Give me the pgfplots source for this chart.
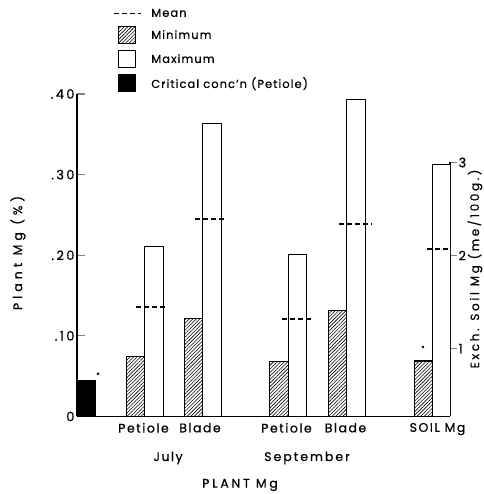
\documentclass[border=0pt]{standalone}
\usepackage{fontspec}
\setmainfont{Poppins}[LetterSpace=12, FakeBold=0.6]
\usepackage{pgfplots}
\pgfplotsset{compat=1.18}
\usetikzlibrary{patterns.meta}
\tikzset{
  hatch/.style={pattern={Lines[angle=45,distance=2.5pt,line width=0.6pt]}, pattern color=black},
}
\newcommand{\lab}{\fontsize{12.5}{14}\selectfont}
\pgfplotsset{
  base/.style={
    at={(77pt,77.5pt)}, anchor=south west, scale only axis,
    width=373pt, xmin=77, xmax=450,
    /pgf/number format/assume math mode=true,
    tick label style={font=\fontsize{13}{15}\selectfont\addfontfeatures{LetterSpace=18}},
  },
  mybar/.style={ybar, bar width=18.5, bar shift=0pt, draw=black, line width=1.1pt, forget plot},
  meanline/.style={black, line width=1.4pt, dash pattern=on 5pt off 3pt, forget plot},
}
\begin{document}
\begin{tikzpicture}[x=1pt,y=1pt]
\useasboundingbox (0,0) rectangle (483,494);
\begin{axis}[base, height=322.5pt, ymin=0, ymax=0.4,
  axis lines*=left, axis line style={-, line width=1.2pt},
  ytick={0,0.1,0.2,0.3,0.4}, yticklabels={0,.10,.20,.30,.40},
  ytick style={line width=1.2pt}, tick align=inside, major tick length=8pt,
  yticklabel style={xshift=1pt},
  xtick={143.5,200,286.5,345.5,437.5},
  xticklabels={Petiole,Blade,Petiole,Blade,SOIL Mg},
  x tick style={draw=none},
  xticklabel style={anchor=north, yshift=-3pt, font=\lab},
  legend cell align=left,
  legend style={draw=none, fill=none, at={(rel axis cs:0.088,1.277)}, anchor=north west,
    font=\fontsize{11.5}{13}\selectfont\addfontfeatures{LetterSpace=9}, row sep=6pt, column sep=8pt},
]
\addlegendimage{legend image code/.code={\draw[black, line width=1.3pt, dash pattern=on 5pt off 3pt] (0pt,0pt) -- (27pt,0pt);}}
\addlegendentry{Mean}
\addlegendimage{legend image code/.code={\draw[hatch, line width=1pt] (5pt,-8.5pt) rectangle (22pt,8.5pt);}}
\addlegendentry{Minimum}
\addlegendimage{legend image code/.code={\draw[fill=white, line width=1pt] (5pt,-8.5pt) rectangle (22pt,8.5pt);}}
\addlegendentry{Maximum}
\addlegendimage{legend image code/.code={\draw[fill=black, line width=1pt] (5pt,-8.5pt) rectangle (22pt,8.5pt);}}
\addlegendentry{Critical conc'n (Petiole)}

% critical concentration (petiole)
\addplot[mybar, fill=black] coordinates {(86,0.044)};
\addplot[only marks, mark=*, mark size=1.1pt, black, forget plot] coordinates {(98,0.053)};
% minimum
\addplot[mybar, hatch] coordinates {(136,0.074) (193.5,0.121) (279,0.068) (337.5,0.131)};
% maximum
\addplot[mybar, fill=white] coordinates {(154,0.211) (212,0.363) (297.5,0.201) (356,0.393)};
% means
\addplot[meanline] coordinates {(136,0.136) (167,0.136)};
\addplot[meanline] coordinates {(195,0.245) (226,0.245)};
\addplot[meanline] coordinates {(282,0.121) (313,0.121)};
\addplot[meanline] coordinates {(339,0.239) (372,0.239)};
\end{axis}

\begin{axis}[base, height=254pt, ymin=0.27, ymax=3,
  axis y line*=right, axis x line=none, axis line style={-, line width=1.2pt},
  ytick={1,2,3}, ytick style={line width=1.2pt}, tick align=outside, major tick length=7pt,
  yticklabel style={xshift=-2pt},
]
\addplot[mybar, hatch] coordinates {(423.5,0.867)};
\addplot[mybar, fill=white] coordinates {(441.5,2.974)};
\addplot[meanline] coordinates {(427,2.07) (453,2.07)};
\addplot[only marks, mark=*, mark size=1.1pt, black, forget plot] coordinates {(423,1.017)};
\end{axis}

\node[rotate=90, inner sep=0pt, font=\lab\addfontfeatures{LetterSpace=32}] at (18,241) {Plant Mg (\%)};
\node[rotate=90, inner sep=0pt, font=\fontsize{12}{13}\selectfont\addfontfeatures{LetterSpace=22}] at (475,225) {Exch. Soil Mg (me/100g.)};
\node[font=\lab] at (168,36) {July};
\node[font=\lab\addfontfeatures{LetterSpace=16}] at (307,36) {September};
\node[font=\lab\addfontfeatures{LetterSpace=22}] at (240,9) {PLANT Mg};
\end{tikzpicture}
\end{document}
